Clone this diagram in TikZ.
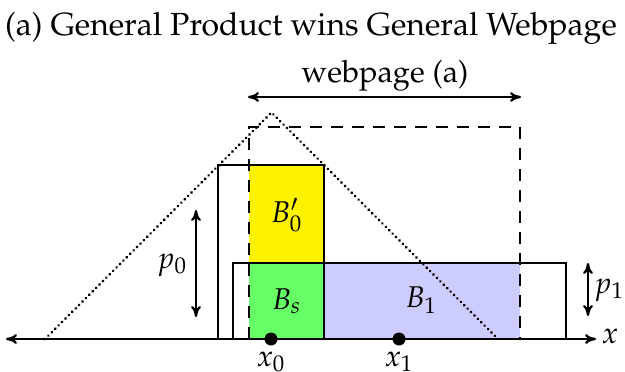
\documentclass[tikz,border=0pt]{standalone}
\usepackage[T1]{fontenc}
\usepackage{mathpazo}
\usetikzlibrary{arrows.meta}
\tikzset{
  ln/.style={line width=1.2pt},
  dotln/.style={line width=1.5pt, dash pattern=on 0.01pt off 2.4pt, line cap=round},
  dashln/.style={line width=1.2pt, dash pattern=on 6pt off 4.5pt},
  lbl/.style={font=\fontsize{15}{18}\selectfont, inner sep=1pt},
  titletext/.style={font=\fontsize{16}{19}\selectfont, inner sep=0pt},
  wtext/.style={font=\fontsize{15.4}{18}\selectfont, inner sep=0pt},
  dotpt/.style={circle, fill=black, inner sep=0pt, minimum size=6.5pt},
  tipped/.style={line width=1.2pt, {To[length=5.5pt,width=5pt]}-{To[length=5.5pt,width=5pt]}},
}
\begin{document}
\begin{tikzpicture}[x=0.5pt,y=-0.5pt]
\useasboundingbox (0,0) rectangle (625,371);
% title and webpage label
\node[titletext, anchor=base] (title) at (311,35) {(a) General Product wins General Webpage};
\node[wtext, anchor=base] (wlab) at (385,82) {webpage (a)};
\coordinate (wa) at (248,97);
\coordinate (wb) at (521,97);
\draw[tipped] (wa) -- (wb);
% fills
\fill[yellow] (249,165) rectangle (324,263);
\fill[green!60] (249,263) rectangle (324,339);
\fill[blue!20] (324,263) rectangle (520,339);
% solid rectangles
\draw[ln] (218,339) |- (324,165) -- (324,339);
\draw[ln] (233,339) |- (566,263) -- (566,339);
% dashed webpage box
\draw[dashln] (249,339) |- (520,127) -- (520,339);
% dotted triangle
\coordinate (tl) at (45,339);
\coordinate (tt) at (271.5,112.5);
\coordinate (tr) at (498,339);
\draw[dotln] (tl) -- (tt) -- (tr);
% axis
\coordinate (axL) at (6,339);
\coordinate (axR) at (596,339);
\draw[tipped] (axL) -- (axR);
\node[lbl] (xl) at (610,336) {$x$};
% box labels
\node[lbl] (b0) at (286.5,215) {$B_0'$};
\node[lbl] (bs) at (286.5,301) {$B_s$};
\node[lbl] (b1) at (421,300) {$B_1$};
% points
\node[dotpt] (x0) at (271,339) {};
\node[dotpt] (x1) at (399,339) {};
\node[lbl, anchor=base] (x0l) at (271,366) {$x_0$};
\node[lbl, anchor=base] (x1l) at (399,366) {$x_1$};
% p0 and p1
\coordinate (p0a) at (196,210);
\coordinate (p0b) at (196,317);
\draw[tipped] (p0a) -- (p0b);
\node[lbl] (p0l) at (172,265) {$p_0$};
\coordinate (p1a) at (588,263);
\coordinate (p1b) at (588,316);
\draw[tipped] (p1a) -- (p1b);
\node[lbl] (p1l) at (609,290) {$p_1$};
\end{tikzpicture}
\end{document}
